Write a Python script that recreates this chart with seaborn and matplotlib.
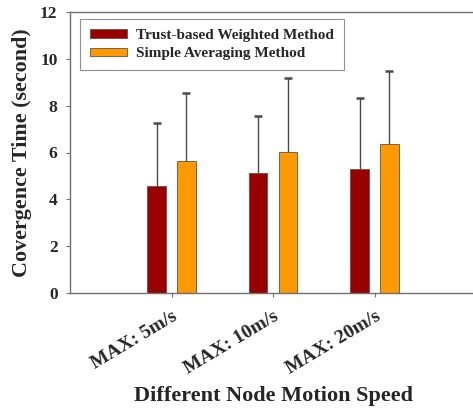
import numpy as np
import pandas as pd
import matplotlib
matplotlib.use("Agg")
import matplotlib.pyplot as plt
import seaborn as sns

# datos
speeds = ["MAX: 5m/s", "MAX: 10m/s", "MAX: 20m/s"]
methods = ["Trust-based Weighted Method", "Simple Averaging Method"]
trust_mean = [4.57, 5.11, 5.31]
trust_err = [2.71, 2.47, 3.01]
avg_mean = [5.65, 6.03, 6.35]
avg_err = [2.88, 3.16, 3.12]

df = pd.DataFrame({
    "speed": speeds * 2,
    "method": [methods[0]] * 3 + [methods[1]] * 3,
    "time": trust_mean + avg_mean,
})
errs = [trust_err, avg_err]

sns.set_style("ticks")
plt.rcParams["font.family"] = ["Liberation Serif", "DejaVu Serif"]
plt.rcParams["font.weight"] = "bold"

fig = plt.figure(figsize=(4.73, 4.09), dpi=100)
ax = fig.add_axes([70 / 473, (409 - 293) / 409, 406 / 473, 281 / 409])

sns.barplot(data=df, x="speed", y="time", hue="method", order=speeds,
            hue_order=methods, palette=["#990000", "#FF9900"], saturation=1,
            errorbar=None, width=0.59, gap=0.39, ax=ax,
            edgecolor="#6a5040", linewidth=0.6)

# barras de error solo hacia arriba (linea + tapa arriba)
for cont, e in zip(ax.containers, errs):
    xs = np.array([b.get_x() + b.get_width() / 2 for b in cont])
    hs = np.array([b.get_height() for b in cont])
    ax.errorbar(xs, hs, yerr=[np.zeros(len(e)), e], fmt="none",
                ecolor="#4a4a4a", elinewidth=1.0, capsize=0, zorder=1)
    ax.plot(xs, hs + np.array(e), ls="none", marker="_", ms=5.5,
            mew=1.8, color="#4a4a4a", zorder=1)

ax.set_xlim(-1.0, 3.0)
ax.set_ylim(0, 12)
ax.set_yticks([0, 2, 4, 6, 8, 10, 12])
for s in ["left", "bottom", "top", "right"]:
    ax.spines[s].set_color("#707070")
    ax.spines[s].set_linewidth(1.0)

ax.tick_params(axis="y", labelsize=12.5, length=3, color="#707070", pad=6)
ax.tick_params(axis="x", labelsize=14, length=3, color="#707070", pad=8)
for lab in ax.get_yticklabels():
    lab.set_fontweight("bold")
plt.setp(ax.get_xticklabels(), rotation=31, ha="right",
         rotation_mode="anchor", fontweight="bold")

ax.set_ylabel("Covergence Time (second)", fontsize=15.8, fontweight="bold", labelpad=6)
ax.set_xlabel("Different Node Motion Speed", fontsize=16, fontweight="bold")
ax.xaxis.label.set_va("center")
ax.xaxis.set_label_coords((273 - 70) / 406, -(396 - 293) / 281)

leg = ax.legend(loc="upper left", bbox_to_anchor=(0.025, 0.975), borderaxespad=0,
                fancybox=False, framealpha=1, edgecolor="#909090",
                prop={"size": 11, "weight": "bold"}, handlelength=2.4,
                handleheight=0.5, borderpad=0.65, labelspacing=0.35,
                handletextpad=0.6)
leg.get_frame().set_linewidth(0.8)

fig.savefig("out.png", dpi=100)
